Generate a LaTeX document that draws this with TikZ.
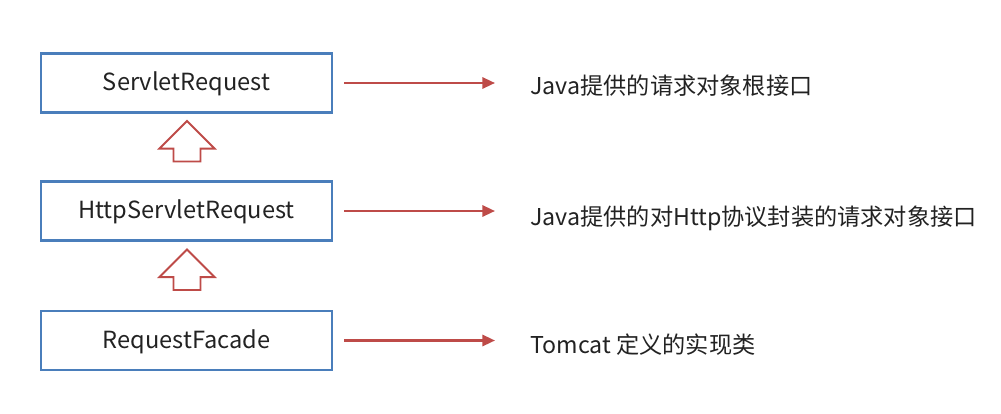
\documentclass[tikz,border=0pt]{standalone}
\usepackage{fontspec}
\setmainfont{Noto Sans CJK SC}
\usetikzlibrary{shapes.arrows,arrows.meta,positioning}
\definecolor{boxblue}{HTML}{4A7EBB}
\definecolor{linkred}{HTML}{BE4B48}
\definecolor{txt}{HTML}{222222}

\begin{document}
\begin{tikzpicture}[x=0.025cm, y=-0.025cm,
    cls/.style={rectangle, draw=boxblue, line width=1.5pt, minimum width=7.275cm, minimum height=1.475cm, text height=1.3em, text depth=0.2em, text=txt, font=\fontsize{16.8}{20}\selectfont},
    note/.style={anchor=west, inner sep=0pt, text=txt, font=\fontsize{16.5}{20}\selectfont},
    link/.style={draw=linkred, line width=1.7pt, -{Triangle[length=9pt,width=8pt]}},
    inherit/.style={single arrow, draw=linkred, fill=white, line width=1.4pt, shape border rotate=90, inner sep=0.3125cm, single arrow head extend=0.35cm, minimum height=0.75cm}]

    \useasboundingbox (0,0) rectangle (1001,414);

    % Klassen
    \node [cls] (req) at (186.5,83) {ServletRequest};
    \node [cls] (http) at (186.5,211) {HttpServletRequest};
    \node [cls] (facade) at (186.5,340.5) {RequestFacade};

    % Vererbung
    \node [inherit] (up1) at (187,148) {};
    \node [inherit] (up2) at (187,276.5) {};

    % Beschreibungen
    \node [note] (reqnote) at (530,86) {Java提供的请求对象根接口};
    \node [note] (httpnote) at (530,218) {Java提供的对Http协议封装的请求对象接口};
    \node [note] (facadenote) at (530,345) {Tomcat 定义的实现类};

    % Verbindungen
    \draw[link, shorten <=0.275cm, shorten >=0.875cm] (req.east) -- (req.east -| reqnote.west);
    \draw[link, shorten <=0.275cm, shorten >=0.875cm] (http.east) -- (http.east -| httpnote.west);
    \draw[link, shorten <=0.275cm, shorten >=0.875cm] (facade.east) -- (facade.east -| facadenote.west);

\end{tikzpicture}
\end{document}
